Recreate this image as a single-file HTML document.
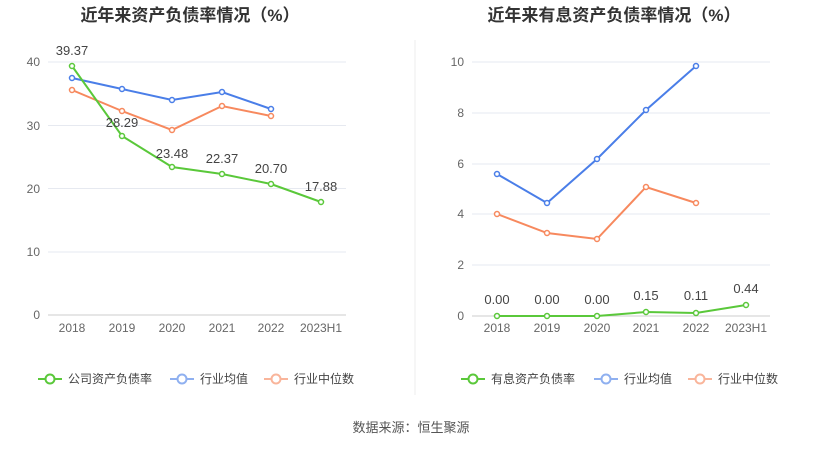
<!DOCTYPE html>
<html><head><meta charset="utf-8"><style>
body{margin:0;background:#fff;}
svg{display:block;font-family:"Liberation Sans","Noto Sans CJK SC",sans-serif;}
</style></head><body>
<svg width="823" height="449" viewBox="0 0 823 449">
<rect width="823" height="449" fill="#fff"/>
<text x="190" y="21" text-anchor="middle" font-size="17" font-weight="bold" fill="#333">近年来资产负债率情况（%）</text>
<text x="614" y="21" text-anchor="middle" font-size="17" font-weight="bold" fill="#333">近年来有息资产负债率情况（%）</text>
<line x1="415" y1="40" x2="415" y2="395" stroke="#eee"/>
<!-- left grid -->
<g stroke="#e6e9f0" stroke-width="1">
<line x1="48" y1="62" x2="346" y2="62"/><line x1="48" y1="125.5" x2="346" y2="125.5"/>
<line x1="48" y1="188.5" x2="346" y2="188.5"/><line x1="48" y1="252" x2="346" y2="252"/>
</g>
<line x1="48" y1="315" x2="346" y2="315" stroke="#ccc"/>
<g font-size="12" fill="#666" text-anchor="end">
<text x="40" y="66">40</text><text x="40" y="130">30</text><text x="40" y="193">20</text><text x="40" y="256">10</text><text x="40" y="319">0</text>
</g>
<g font-size="12" fill="#666" text-anchor="middle">
<text x="72" y="332">2018</text><text x="122" y="332">2019</text><text x="172" y="332">2020</text><text x="222" y="332">2021</text><text x="271" y="332">2022</text><text x="321" y="332">2023H1</text>
</g>
<g fill="#fff" stroke-width="1.5">
<polyline fill="none" stroke="#4a7ee8" stroke-width="2" points="72,78 122,89 172,100 222,92 271,109"/>
<g stroke="#4a7ee8"><circle cx="72" cy="78" r="2.5"/><circle cx="122" cy="89" r="2.5"/><circle cx="172" cy="100" r="2.5"/><circle cx="222" cy="92" r="2.5"/><circle cx="271" cy="109" r="2.5"/></g>
<polyline fill="none" stroke="#f7895e" stroke-width="2" points="72,90 122,111 172,130 222,106 271,116"/>
<g stroke="#f7895e"><circle cx="72" cy="90" r="2.5"/><circle cx="122" cy="111" r="2.5"/><circle cx="172" cy="130" r="2.5"/><circle cx="222" cy="106" r="2.5"/><circle cx="271" cy="116" r="2.5"/></g>
<polyline fill="none" stroke="#5ac83a" stroke-width="2" points="72,66 122,136 172,167 222,174 271,184 321,202"/>
<g stroke="#5ac83a"><circle cx="72" cy="66" r="2.5"/><circle cx="122" cy="136" r="2.5"/><circle cx="172" cy="167" r="2.5"/><circle cx="222" cy="174" r="2.5"/><circle cx="271" cy="184" r="2.5"/><circle cx="321" cy="202" r="2.5"/></g>
</g>
<g font-size="13" fill="#444" text-anchor="middle">
<text x="72" y="55">39.37</text><text x="122" y="127">28.29</text><text x="172" y="158">23.48</text><text x="222" y="163">22.37</text><text x="271" y="173">20.70</text><text x="321" y="191">17.88</text>
</g>
<!-- right grid -->
<g stroke="#e6e9f0">
<line x1="472" y1="62" x2="770" y2="62"/><line x1="472" y1="113" x2="770" y2="113"/><line x1="472" y1="164" x2="770" y2="164"/><line x1="472" y1="214" x2="770" y2="214"/><line x1="472" y1="265" x2="770" y2="265"/>
</g>
<line x1="472" y1="316" x2="770" y2="316" stroke="#ccc"/>
<g font-size="12" fill="#666" text-anchor="end">
<text x="464" y="66">10</text><text x="464" y="117">8</text><text x="464" y="168">6</text><text x="464" y="218">4</text><text x="464" y="269">2</text><text x="464" y="320">0</text>
</g>
<g font-size="12" fill="#666" text-anchor="middle">
<text x="497" y="332">2018</text><text x="547" y="332">2019</text><text x="597" y="332">2020</text><text x="646" y="332">2021</text><text x="696" y="332">2022</text><text x="746" y="332">2023H1</text>
</g>
<g fill="#fff" stroke-width="1.5">
<polyline fill="none" stroke="#4a7ee8" stroke-width="2" points="497,174 547,203 597,159 646,110 696,66"/>
<g stroke="#4a7ee8"><circle cx="497" cy="174" r="2.5"/><circle cx="547" cy="203" r="2.5"/><circle cx="597" cy="159" r="2.5"/><circle cx="646" cy="110" r="2.5"/><circle cx="696" cy="66" r="2.5"/></g>
<polyline fill="none" stroke="#f7895e" stroke-width="2" points="497,214 547,233 597,239 646,187 696,203"/>
<g stroke="#f7895e"><circle cx="497" cy="214" r="2.5"/><circle cx="547" cy="233" r="2.5"/><circle cx="597" cy="239" r="2.5"/><circle cx="646" cy="187" r="2.5"/><circle cx="696" cy="203" r="2.5"/></g>
<polyline fill="none" stroke="#5ac83a" stroke-width="2" points="497,316 547,316 597,316 646,312 696,313 746,305"/>
<g stroke="#5ac83a"><circle cx="497" cy="316" r="2.5"/><circle cx="547" cy="316" r="2.5"/><circle cx="597" cy="316" r="2.5"/><circle cx="646" cy="312" r="2.5"/><circle cx="696" cy="313" r="2.5"/><circle cx="746" cy="305" r="2.5"/></g>
</g>
<g font-size="13" fill="#444" text-anchor="middle">
<text x="497" y="304">0.00</text><text x="547" y="304">0.00</text><text x="597" y="304">0.00</text><text x="646" y="300">0.15</text><text x="696" y="300">0.11</text><text x="746" y="293">0.44</text>
</g>
<!-- legends -->
<g font-size="12" fill="#444" stroke-width="2">
<line x1="38" y1="379" x2="62" y2="379" stroke="#5ac83a"/><circle cx="50" cy="379" r="4.5" fill="#fff" stroke="#5ac83a"/><text x="68" y="383" stroke="none">公司资产负债率</text>
<line x1="170" y1="379" x2="194" y2="379" stroke="#8fb0f0"/><circle cx="182" cy="379" r="4.5" fill="#fff" stroke="#8fb0f0"/><text x="200" y="383" stroke="none">行业均值</text>
<line x1="264" y1="379" x2="288" y2="379" stroke="#f9b59b"/><circle cx="276" cy="379" r="4.5" fill="#fff" stroke="#f9b59b"/><text x="294" y="383" stroke="none">行业中位数</text>
<line x1="461" y1="379" x2="485" y2="379" stroke="#5ac83a"/><circle cx="473" cy="379" r="4.5" fill="#fff" stroke="#5ac83a"/><text x="491" y="383" stroke="none">有息资产负债率</text>
<line x1="594" y1="379" x2="618" y2="379" stroke="#8fb0f0"/><circle cx="606" cy="379" r="4.5" fill="#fff" stroke="#8fb0f0"/><text x="624" y="383" stroke="none">行业均值</text>
<line x1="688" y1="379" x2="712" y2="379" stroke="#f9b59b"/><circle cx="700" cy="379" r="4.5" fill="#fff" stroke="#f9b59b"/><text x="718" y="383" stroke="none">行业中位数</text>
</g>
<text x="411" y="432" text-anchor="middle" font-size="13" fill="#555">数据来源：恒生聚源</text>
</svg>
</body></html>
